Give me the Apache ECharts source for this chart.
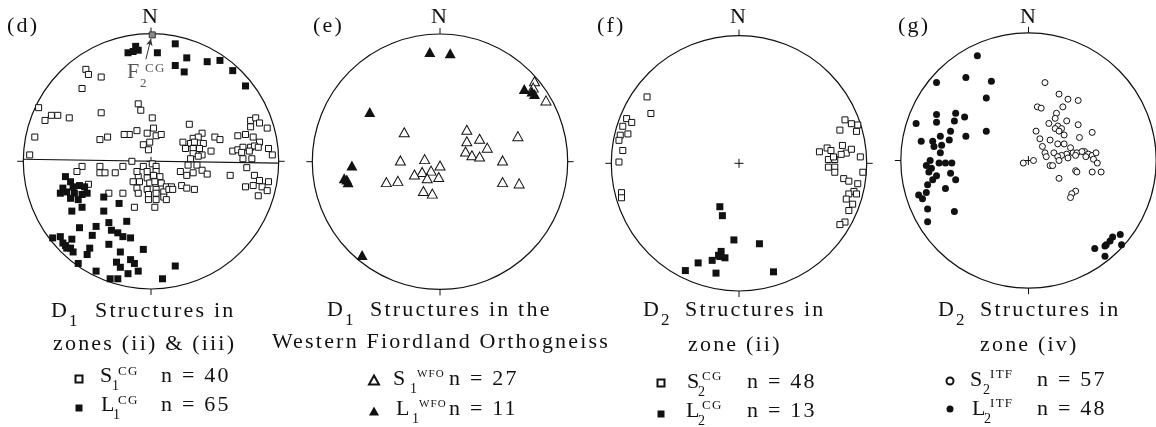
<!DOCTYPE html>
<html><head><meta charset="utf-8">
<script src="https://cdn.jsdelivr.net/npm/echarts@6/dist/echarts.min.js"></script>
<style>
html,body{margin:0;padding:0;background:#fff;}
#chart{width:1156px;height:427px;}
</style></head><body><div id="chart"></div>
<script>
// ---- DATA (stereonet projection coordinates: x = east, y = north, circle radius = 100) ----
// (d) D1 structures in zones (ii) & (iii)
const dS1 = [[-51,72],[-49,68],[-39,66],[-54,57],[-88,42],[-83,32],[-78,36],[-73,36],[-64,34],[-39,38],[-91,19],[-95,5],[-10,45],[-8,40],[1,34],[2,26],[-3,22],[4,20],[8,21],[-1,15],[-6,13],[-2,9],[-11,24],[-17,21],[-21,21],[-40,17],[-34,19],
[30,29],[40,22],[33,18],[37,19],[50,19],[54,17],[25,15],[31,14],[34,15],[41,14],[33,10],[38,10],[27,10],[33,6],[40,5],[47,8],[31,2],[37,4],[29,-3],[36,-3],[40,-7],[44,-10],[23,-8],[28,-11],[33,-9],[24,-19],[28,-21],[34,-22],
[78,32],[82,34],[85,30],[91,26],[78,27],[68,20],[74,21],[80,19],[85,15],[92,10],[95,5],[64,8],[68,9],[72,11],[78,11],[81,12],[84,11],[71,7],[77,8],[79,2],[72,2],[75,-5],[62,-11],[81,-11],[85,-15],[92,-16],[80,-19],[74,-20],[87,-20],[91,-23],[84,-27],
[-54,-4],[-58,-8],[-40,-4],[-40,-9],[-36,-9],[-28,-9],[-22,-4],[-15,0],[1,-2],[-6,-4],[4,-4],[-3,-8],[4,-8],[-10,-12],[-3,-13],[2,-11],[7,-12],[-14,-16],[-9,-16],[-1,-17],[3,-16],[8,-17],[12,-20],[16,-20],[-11,-21],[-3,-22],[4,-22],[10,-24],[14,-22],[17,-22],[-10,-25],[-2,-26],[4,-25],[10,-28],[12,-30],[-2,-30],[4,-30],[-13,-36],[3,-36],[-49,-18],[-22,-25],[-33,-25],[-11,-8]];
const dL1 = [[-12,90],[-18,85],[-14,86],[-10,87],[5,85],[19,92],[28,81],[19,75],[26,70],[44,78],[54,79],[64,71],[74,59],
[-67,-12],[-63,-16],[-61,-20],[-56,-19],[-52,-20],[-71,-25],[-66,-24],[-60,-25],[-54,-26],[-63,-29],[-57,-30],[-69,-21],[-50,-25],[-54,-36],[-62,-39],[-37,-28],[-25,-33],[-37,-39],
[-33,-48],[-19,-47],[-43,-51],[-56,-52],[-31,-54],[-26,-56],[-22,-59],[-16,-60],[-46,-58],[-77,-60],[-71,-59],[-62,-61],[-67,-66],[-63,-68],[-61,-71],[-48,-68],[-50,-73],[-33,-65],[-24,-71],[-6,-69],[-16,-77],[-13,-80],[-27,-79],[-24,-83],[-57,-80],[-43,-86],[-18,-88],[-10,-86],[19,-82],[-32,-92],[-26,-92],[9,-92],[-66,-68],[-69,-64]];
const dF2 = [[1,99]];
const dF2Arrow = [[-4,80],[0,96]];
const dGreatCircle = [[-100,1.6],[100,-1.5]];
// (e) D1 structures in the Western Fiordland Orthogneiss
const eS1 = [[74,63],[73,58],[83,48],[-28,23],[21,25],[31,18],[21,16],[37,11],[20,8],[25,5],[31,4],[61,20],[-31,1],[-12,2],[0,-3],[49,1],[-14,-8],[-7,-7],[-20,-10],[-10,-13],[-1,-12],[-42,-16],[-33,-15],[-13,-23],[-6,-25],[49,-16],[62,-17]];
const eL1 = [[-8,86],[8,85],[66,57],[74,53],[72,55],[-55,39],[-69,-3],[-75,-13],[-72,-16],[-73,-14],[-61,-73]];
// (f) D2 structures in zone (ii)
const fS2 = [[-72,52],[-69,39],[-88,35],[-84,32],[-91,29],[-87,23],[-93,22],[-94,18],[-91,10],[-94,1],[-92,-23],[-92,-27],
[83,34],[88,31],[93,30],[79,26],[92,25],[63,9],[69,12],[72,10],[81,14],[84,8],[88,11],[80,7],[75,3],[70,3],[70,-3],[75,-3],[75,-7],[95,5],[97,-7],[82,-12],[86,-14],[93,-16],[90,-22],[86,-24],[92,-24],[84,-28],[89,-32],[86,-37],[83,-46],[79,-48],[74,5]];
const fL2 = [[-15,-34],[-13,-41],[-4,-60],[16,-63],[-14,-69],[-16,-72],[-11,-74],[-21,-76],[-32,-78],[-42,-84],[-18,-86],[27,-85],[-15,-73]];
// (g) D2 structures in zone (iv)
const gS2 = [[13,61],[24,52],[31,48],[39,47],[7,42],[10,41],[27,42],[22,37],[21,33],[16,29],[23,27],[26,25],[30,31],[39,28],[21,25],[24,23],[6,23],[50,22],[9,17],[28,20],[40,18],[17,16],[11,11],[23,13],[28,13],[33,10],[44,7],[13,6],[20,6],[30,5],[35,6],[26,4],[38,6],[42,7],[47,5],[50,4],[53,6],[14,3],[23,3],[31,2],[37,4],[51,1],[4,0],[-4,-2],[17,-4],[19,-4],[24,0],[54,-2],[37,-8],[38,-9],[50,-9],[57,-9],[24,-14],[37,-24],[34,-26],[33,-29],[45,3]];
const gL2 = [[-40,82],[-72,61],[-49,65],[-29,62],[-33,49],[-33,23],[-88,29],[-72,36],[-57,37],[-50,34],[-72,30],[-58,31],[-61,23],[-69,19],[-75,15],[-84,15],[-62,16],[-49,19],[-68,12],[-74,11],[-69,6],[-77,0],[-70,-2],[-65,-2],[-60,-2],[-80,-4],[-76,-6],[-78,-9],[-72,-12],[-75,-15],[-61,-10],[-57,-15],[-79,-19],[-65,-22],[-80,-25],[-86,-27],[-83,-30],[-79,-38],[-58,-40],[-79,-48],
[52,-69],[60,-67],[64,-63],[66,-60],[72,-58],[73,-66],[60,-75],[61,-66]];
const netCentre = [[0,0]];
const countsD = [40, 65], countsE = [27, 11], countsF = [48, 13], countsG = [57, 48];

// ---- typographic tracking of the original figure (letter spacing ~ 0.1 em) ----
(function () {
  const P = window.CanvasRenderingContext2D && CanvasRenderingContext2D.prototype;
  if (!P || !('letterSpacing' in P)) return;
  const orig = P.fillText;
  P.fillText = function () {
    const m = /(\d+(?:\.\d+)?)px/.exec(this.font || '');
    const fs = m ? parseFloat(m[1]) : 12;
    this.letterSpacing = (0.1 * fs).toFixed(2) + 'px';
    return orig.apply(this, arguments);
  };
})();

// ---- LAYOUT ----
const R = 127.7;
const centres = [[151,161.3],[440,161.7],[739,163.3],[1028.5,160.5]];
const FONT = 'Liberation Serif, Times New Roman, serif';
const INK = '#111';

const grids = [], xAxes = [], yAxes = [], polars = [], angleAxes = [], radiusAxes = [];
centres.forEach((c, i) => {
  grids.push({left: c[0]-R, top: c[1]-R, width: 2*R, height: 2*R});
  xAxes.push({gridIndex: i, type: 'value', min: -100, max: 100, show: false});
  yAxes.push({gridIndex: i, type: 'value', min: -100, max: 100, show: false});
  polars.push({center: [c[0], c[1]], radius: R});
  angleAxes.push({polarIndex: i, type: 'value', min: 0, max: 360, interval: 90, startAngle: 90,
    axisLine: {show: true, lineStyle: {color: INK, width: 1.2}},
    axisTick: {show: true, length: 6, lineStyle: {color: INK, width: 1}},
    axisLabel: {show: false}, splitLine: {show: false}, splitArea: {show: false}});
  radiusAxes.push({polarIndex: i, type: 'value', min: 0, max: 1, show: false});
});

function sc(name, gi, data, symbol, size, fill, stroke, bw, z) {
  return {type: 'scatter', name: name, xAxisIndex: gi, yAxisIndex: gi, data: data, symbol: symbol,
    symbolSize: size, z: z || 2, silent: true,
    itemStyle: {color: fill, borderColor: stroke, borderWidth: bw, opacity: 1}};
}
const CROSS = 'path://M5,0L5,10M0,5L10,5';
const series = [
  sc('centre d', 0, netCentre, CROSS, 9, 'none', INK, 1, 1),
  {type: 'line', name: 'great circle (d)', xAxisIndex: 0, yAxisIndex: 0, data: dGreatCircle, symbol: 'none',
    lineStyle: {color: INK, width: 1.2}, silent: true, z: 1},
  sc('S1 CG (d)', 0, dS1, 'rect', 6, '#fff', INK, 1, 2),
  sc('L1 CG (d)', 0, dL1, 'rect', 7, INK, INK, 0, 3),
  Object.assign(sc('F2 CG (d)', 0, dF2, 'rect', 6, '#8a8a8a', '#333', 1, 4), {
    markLine: {silent: true, symbol: ['none', 'arrow'], symbolSize: [5, 7], animation: false,
      lineStyle: {color: '#333', width: 1, type: 'solid'}, label: {show: false},
      data: [[{coord: dF2Arrow[0]}, {coord: dF2Arrow[1]}]]}}),
  sc('S1 WFO (e)', 1, eS1, 'triangle', [10, 9], '#fff', INK, 1, 2),
  sc('L1 WFO (e)', 1, eL1, 'triangle', [11, 10], INK, INK, 0, 3),
  sc('centre f', 2, netCentre, CROSS, 9, 'none', INK, 1, 1),
  sc('S2 CG (f)', 2, fS2, 'rect', 6, '#fff', INK, 1, 2),
  sc('L2 CG (f)', 2, fL2, 'rect', 7, INK, INK, 0, 3),
  sc('centre g', 3, netCentre, CROSS, 9, 'none', INK, 1, 1),
  sc('S2 ITF (g)', 3, gS2, 'circle', 6, '#fff', INK, 1, 2),
  sc('L2 ITF (g)', 3, gL2, 'circle', 7, INK, INK, 0, 3)
];

function lg(names, left, top, w, h, gap) {
  return {data: names, left: left, top: top, orient: 'vertical', itemWidth: w, itemHeight: h, itemGap: gap,
    padding: 0, selectedMode: false, formatter: function () { return ''; },
    textStyle: {fontSize: 8, lineHeight: 8}};
}
const legends = [
  lg(['S1 CG (d)', 'L1 CG (d)'], 74.5, 374.5, 7, 7, 21),
  lg(['S1 WFO (e)', 'L1 WFO (e)'], 368, 374.5, 10, 9, 21),
  lg(['S2 CG (f)', 'L2 CG (f)'], 656.5, 378.5, 7, 7, 23),
  lg(['S2 ITF (g)', 'L2 ITF (g)'], 945.5, 376.5, 7, 7, 20)
];

function T(s, x, bl, fs, o) {
  o = o || {};
  return {type: 'text', x: x, y: bl - 0.34 * fs, silent: true, z: 100,
    style: {text: s, font: fs + 'px ' + FONT, fill: o.fill || INK, textAlign: o.align || 'left',
      textVerticalAlign: 'middle', verticalAlign: 'middle'}};
}
const GREY = '#555';
const texts = [
  // (d)
  T('(d)', 7, 34, 22), T('N', 151, 25, 22, {align: 'center'}),
  T('F', 127, 80, 22, {fill: GREY}), T('2', 140, 88, 13, {fill: GREY}), T('CG', 145, 73, 13, {fill: GREY}),
  T('D', 51, 319, 22), T('1', 69, 327, 17), T('Structures in', 95, 319, 22),
  T('zones (ii) & (iii)', 53, 352, 22),
  T('S', 100, 384, 22), T('1', 112, 391, 14), T('CG', 118, 376, 13), T('n = ' + countsD[0], 161, 384, 22),
  T('L', 101, 413, 22), T('1', 113, 420, 14), T('CG', 118, 405, 13), T('n = ' + countsD[1], 161, 413, 22),
  // (e)
  T('(e)', 313, 34, 22), T('N', 440, 25, 22, {align: 'center'}),
  T('D', 327, 318, 22), T('1', 345, 326, 17), T('Structures in the', 370, 318, 22),
  T('Western Fiordland Orthogneiss', 441, 350, 22, {align: 'center'}),
  T('S', 393, 387, 22), T('1', 410, 394, 14), T('WFO', 417, 378, 11), T('n = ' + countsE[0], 449, 387, 22),
  T('L', 396, 417, 22), T('1', 412, 424, 14), T('WFO', 419, 408, 11), T('n = ' + countsE[1], 449, 417, 22),
  // (f)
  T('(f)', 597, 34, 22), T('N', 739, 25, 22, {align: 'center'}),
  T('D', 643, 318, 22), T('2', 661, 326, 17), T('Structures in', 685, 318, 22),
  T('zone (ii)', 688, 353, 22),
  T('S', 687, 390, 22), T('2', 698, 397, 14), T('CG', 702, 381, 13), T('n = ' + countsF[0], 747, 390, 22),
  T('L', 686, 419, 22), T('2', 698, 426, 14), T('CG', 702, 410, 13), T('n = ' + countsF[1], 747, 419, 22),
  // (g)
  T('(g)', 898, 34, 22), T('N', 1029, 25, 22, {align: 'center'}),
  T('D', 938, 318, 22), T('2', 956, 326, 17), T('Structures in', 980, 318, 22),
  T('zone (iv)', 980, 353, 22),
  T('S', 970, 388, 22), T('2', 983, 395, 14), T('ITF', 990, 379, 13), T('n = ' + countsG[0], 1037, 388, 22),
  T('L', 972, 417, 22), T('2', 984, 424, 14), T('ITF', 990, 408, 13), T('n = ' + countsG[1], 1037, 417, 22)
];

const chart = echarts.init(document.getElementById('chart'), null, {width: 1156, height: 427});
chart.setOption({
  backgroundColor: '#fff',
  animation: false,
  grid: grids, xAxis: xAxes, yAxis: yAxes,
  polar: polars, angleAxis: angleAxes, radiusAxis: radiusAxes,
  legend: legends,
  series: series,
  graphic: {elements: texts}
});
</script></body></html>
